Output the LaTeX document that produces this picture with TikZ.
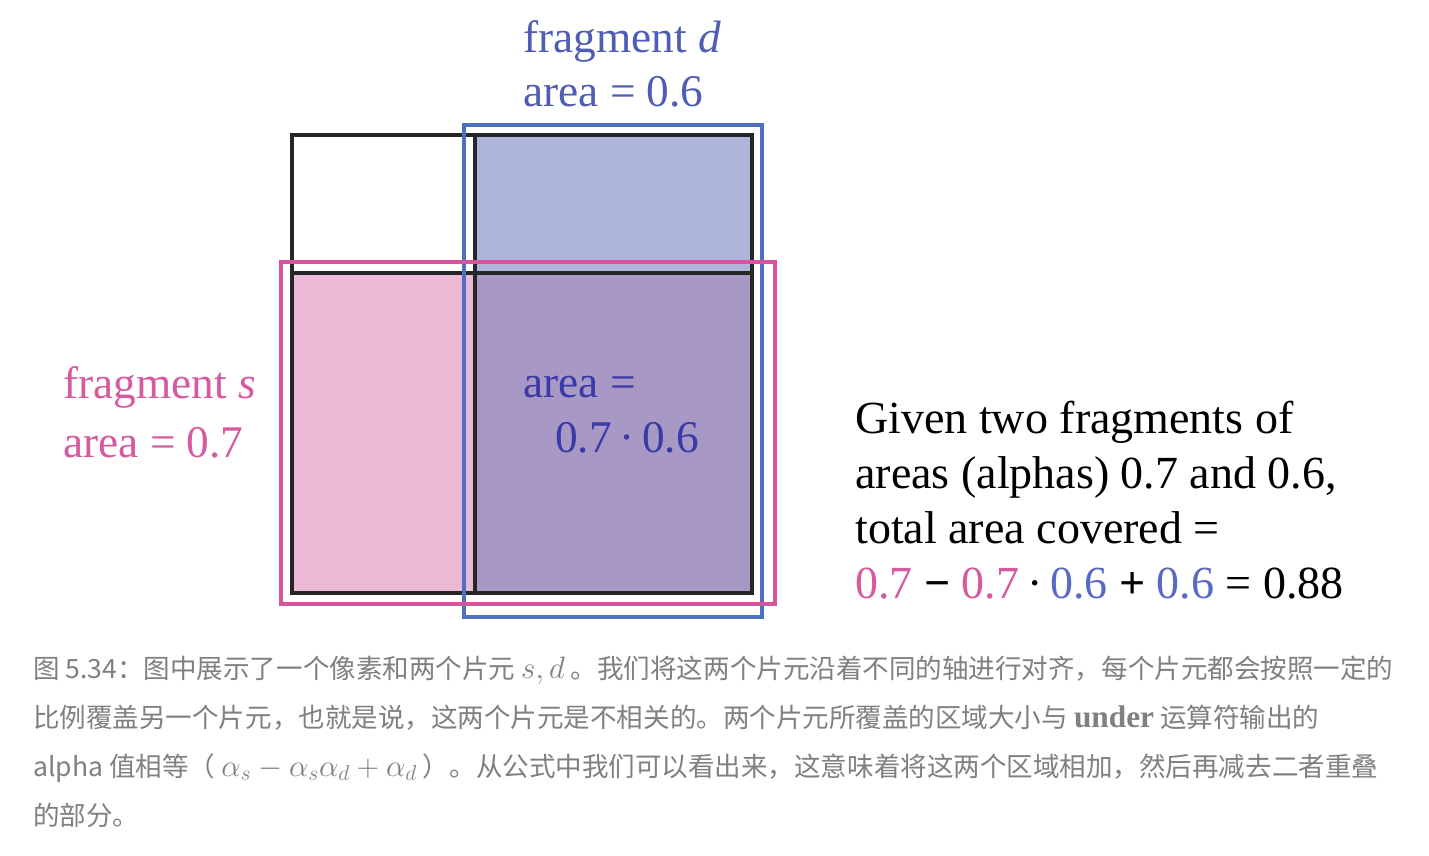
\documentclass[tikz,border=0pt]{standalone}
\usepackage{fontspec}
\newfontfamily\tnr{Liberation Serif}
\newfontfamily\cjk{Noto Sans CJK SC}
\definecolor{pinkline}{HTML}{D8529F}
\definecolor{blueline}{HTML}{4F6FBF}
\definecolor{pinkfill}{HTML}{EAB9D5}
\definecolor{bluefill}{HTML}{AEB5DA}
\definecolor{purplefill}{HTML}{A898C6}
\definecolor{pinktext}{HTML}{D55AA0}
\definecolor{bluetext}{HTML}{4F5DB5}
\definecolor{darkbluetext}{HTML}{3A3AA6}
\definecolor{eqblue}{HTML}{5A6AC2}
\definecolor{captiongray}{HTML}{808080}
\newcommand{\capmath}[1]{\scalebox{1.12}{$#1$}}
\tikzset{
  lbl/.style={anchor=base west, inner sep=0pt, font=\tnr\fontsize{34}{40}\selectfont},
  rtxt/.style={anchor=base west, inner sep=0pt, font=\tnr\fontsize{34.5}{41}\selectfont, text=black},
  captxt/.style={anchor=base west, inner sep=0pt, font=\cjk\fontsize{19.9}{24}\selectfont, text=captiongray},
  gridline/.style={draw=black!85, line width=2.8pt},
  bluebox/.style={draw=blueline, line width=2.5pt},
  pinkbox/.style={draw=pinkline, line width=2.5pt},
}
\begin{document}
\begin{tikzpicture}[x=0.75pt,y=-0.75pt]
\useasboundingbox[fill=white] (0,0) rectangle (1429,856);
% fills
\fill[bluefill] (475,135) rectangle (752,273);
\fill[pinkfill] (292,273) rectangle (475,593);
\fill[purplefill] (475,273) rectangle (752,593);
% pixel grid
\draw[gridline] (292,135) rectangle (752,593);
\draw[gridline] (475,135) -- (475,593);
\draw[gridline] (292,273) -- (752,273);
% fragment boxes
\draw[bluebox] (464,125) rectangle (762,617);
\draw[pinkbox] (281,262) rectangle (775,604);
% labels
\node[lbl, text=bluetext] (fd) at (523,53) {fragment \textit{d}};
\node[lbl, text=bluetext] (ad) at (523,107) {area = 0.6};
\node[lbl, text=pinktext] (fs) at (63,398) {fragment \textit{s}};
\node[lbl, text=pinktext] (as) at (63,457) {area = 0.7};
\node[lbl, text=darkbluetext] (a1) at (523,397) {area =};
\node[lbl, text=darkbluetext] (a2) at (555,452) {0.7\,·\,0.6};
% right text
\node[rtxt] (r1) at (855,433) {Given two fragments of};
\node[rtxt] (r2) at (855,488) {areas (alphas) 0.7 and 0.6,};
\node[rtxt] (r3) at (855,543) {total area covered =};
\node[rtxt] (r4) at (855,598) {\textcolor{pinktext}{0.7} {\bfseries −} \textcolor{pinktext}{0.7}\,·\,\textcolor{eqblue}{0.6} {\bfseries +} \textcolor{eqblue}{0.6} = 0.88};
% caption
\node[captxt] (c1) at (33,678) {图 5.34：图中展示了一个像素和两个片元 \capmath{s,d} 。我们将这两个片元沿着不同的轴进行对齐，每个片元都会按照一定的};
\node[captxt] (c2) at (33,727) {比例覆盖另一个片元，也就是说，这两个片元是不相关的。两个片元所覆盖的区域大小与 {\tnr\bfseries\fontsize{23.5}{24}\selectfont under} 运算符输出的};
\node[captxt] (c3) at (33,776) {alpha 值相等（ \capmath{\alpha_s-\alpha_s\alpha_d+\alpha_d} ）。从公式中我们可以看出来，这意味着将这两个区域相加，然后再减去二者重叠};
\node[captxt] (c4) at (33,825) {的部分。};
\end{tikzpicture}
\end{document}
